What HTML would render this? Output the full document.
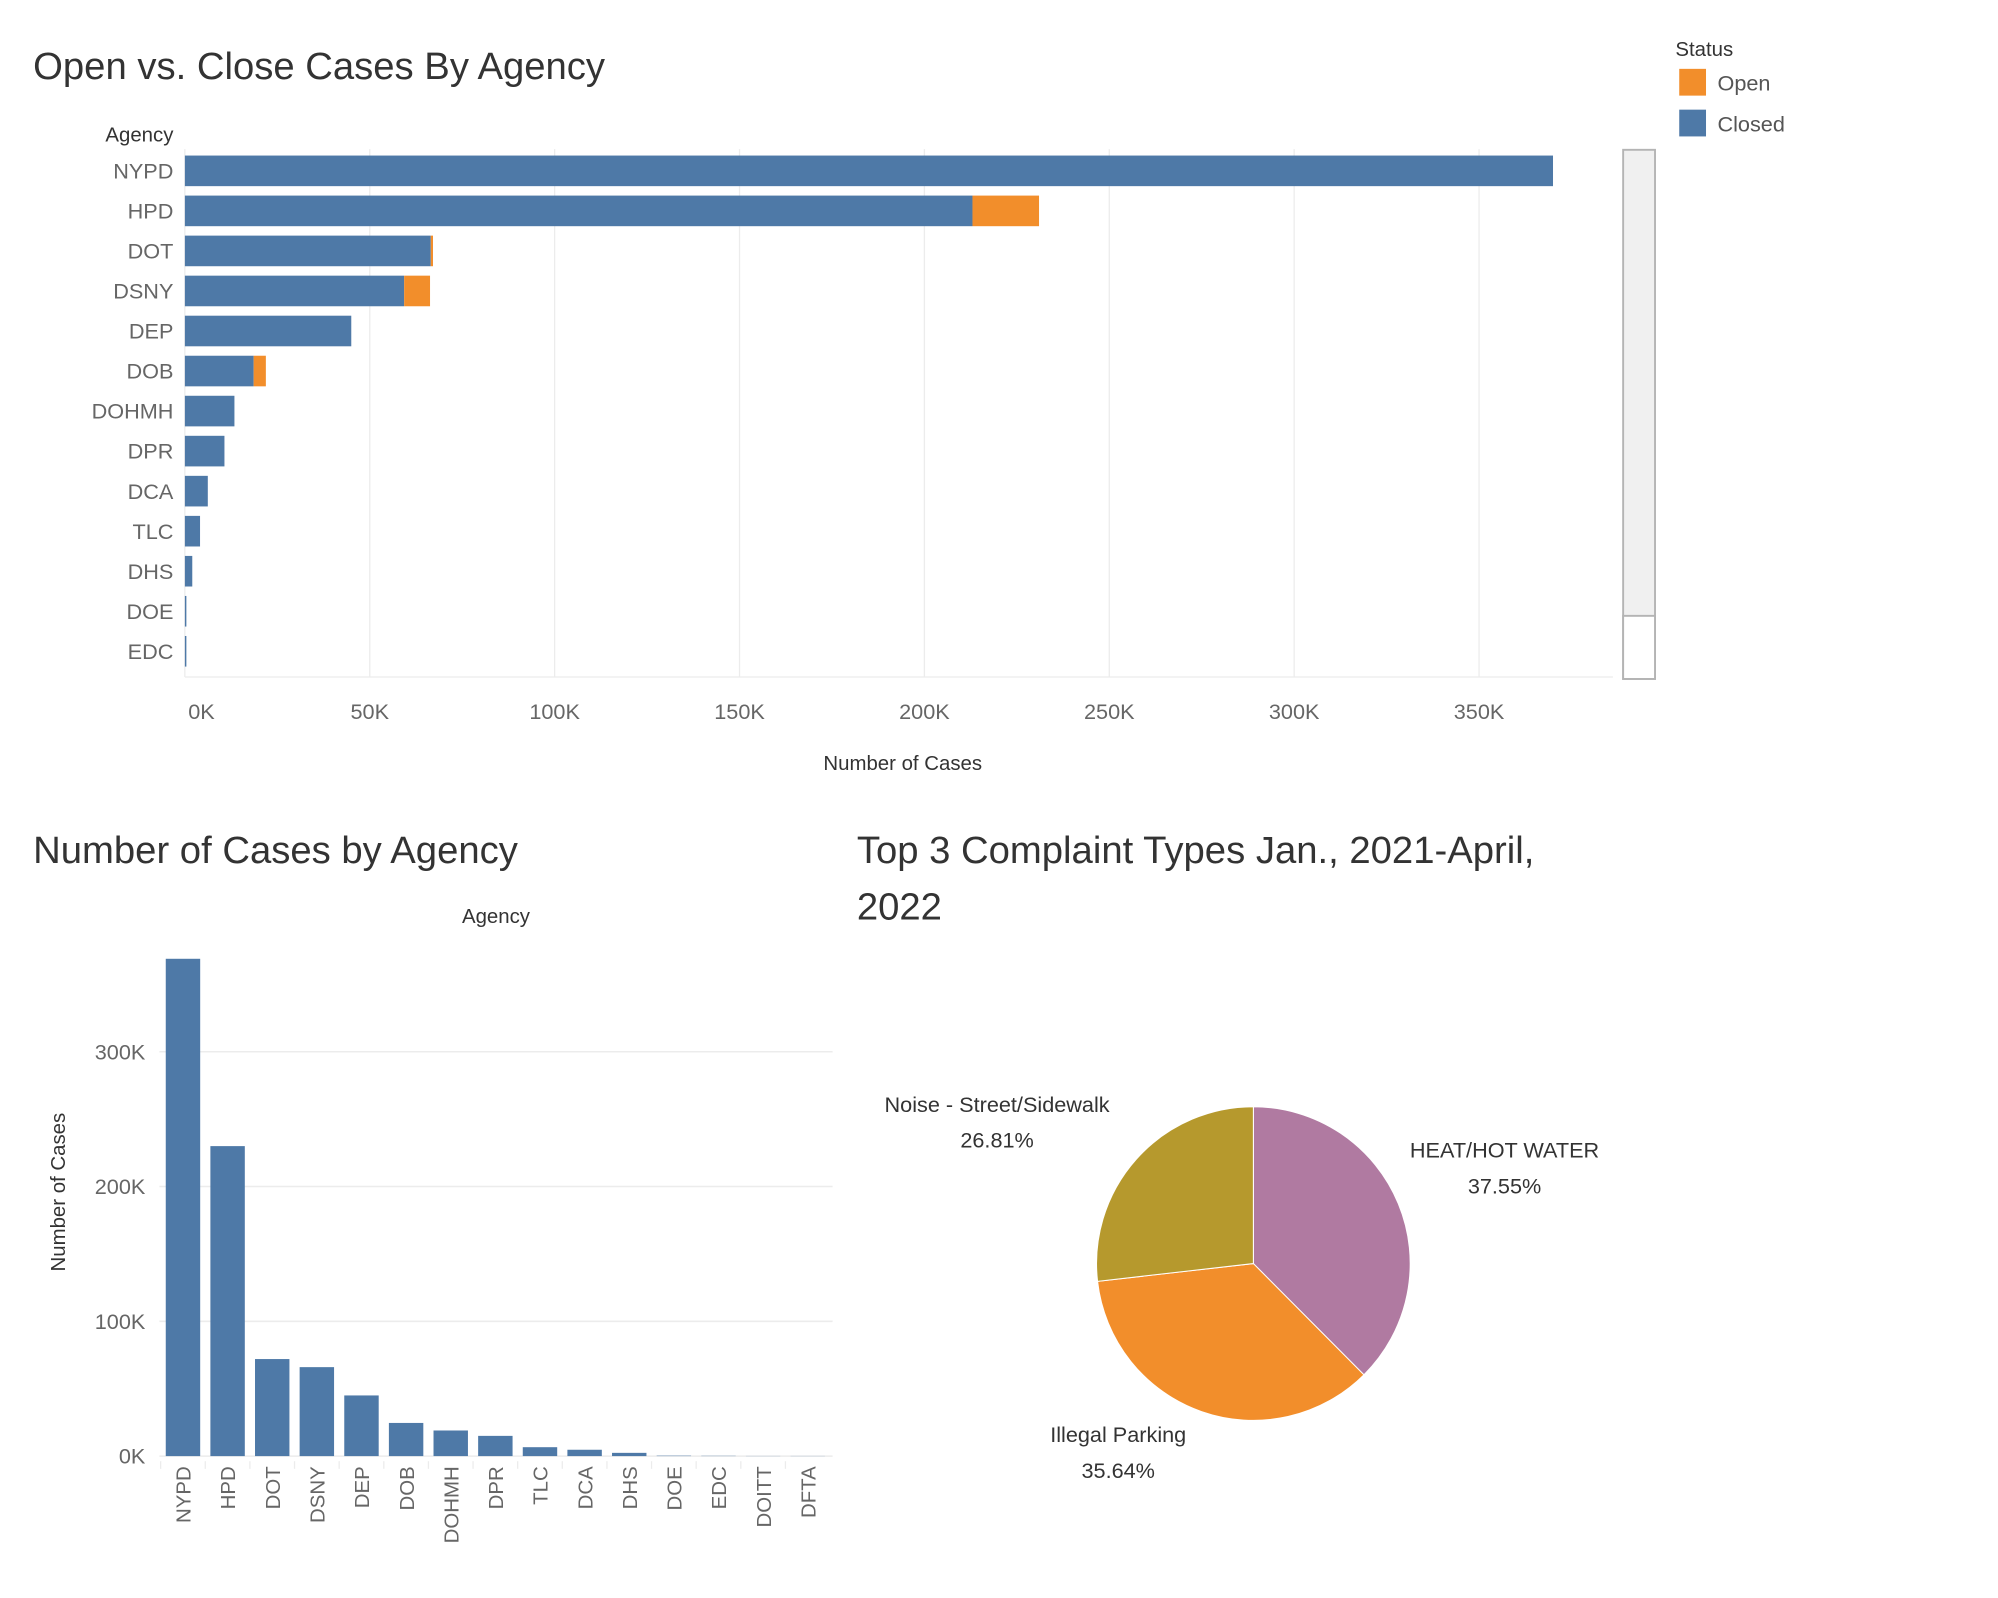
<!DOCTYPE html>
<html><head><meta charset="utf-8">
<style>
html,body{margin:0;padding:0;background:#fff;}
svg{display:block;font-family:"Liberation Sans","DejaVu Sans",sans-serif;}
</style></head>
<body>
<svg id="root" width="1998" height="1598" viewBox="0 0 1567 1253.3" preserveAspectRatio="none" xmlns="http://www.w3.org/2000/svg">
  <text x="26" y="62" font-size="30" fill="#333">Open vs. Close Cases By Agency</text>
  <text x="136" y="111" font-size="16" fill="#333" text-anchor="end">Agency</text>
  <g id="hbar"></g>
  <rect x="1273" y="117.5" width="25" height="415" fill="#f0f0f0" stroke="#b4b4b4" stroke-width="1.5"/>
  <rect x="1273" y="483" width="25" height="49.5" fill="#fff" stroke="#b4b4b4" stroke-width="1.5"/>
  <text x="708" y="604" font-size="16" fill="#333" text-anchor="middle">Number of Cases</text>
  <g>
    <text x="1314" y="44" font-size="16" fill="#333">Status</text>
    <rect x="1317" y="54" width="21" height="21" fill="#f28e2b"/>
    <text x="1347" y="71" font-size="17" fill="#555">Open</text>
    <rect x="1317" y="86" width="21" height="21" fill="#4e79a7"/>
    <text x="1347" y="103" font-size="17" fill="#555">Closed</text>
  </g>

  <text x="26" y="677" font-size="30" fill="#333">Number of Cases by Agency</text>
  <text x="389" y="724" font-size="16" fill="#333" text-anchor="middle">Agency</text>
  <text transform="translate(51,935) rotate(-90)" font-size="16" fill="#333" text-anchor="middle">Number of Cases</text>
  <g id="vbar"></g>

  <text x="672" y="677" font-size="30" fill="#333">Top 3 Complaint Types Jan., 2021-April,</text>
  <text x="672" y="721" font-size="30" fill="#333">2022</text>
  <g id="pie"></g>
</svg>
<script>
const NS="http://www.w3.org/2000/svg";
const hAgencies=["NYPD","HPD","DOT","DSNY","DEP","DOB","DOHMH","DPR","DCA","TLC","DHS","DOE","EDC"];
const hClosed=[370,213,66.5,59.3,45,18.6,13.4,10.7,6.2,4.1,2,0.4,0.4];
const hOpen=[0,18,0.6,7,0,3.3,0,0,0,0,0,0,0];
const hTicks=[0,50,100,150,200,250,300,350];
const hTickLabels=["0K","50K","100K","150K","200K","250K","300K","350K"];

const vAgencies=["NYPD","HPD","DOT","DSNY","DEP","DOB","DOHMH","DPR","TLC","DCA","DHS","DOE","EDC","DOITT","DFTA"];
const vValues=[369,230,72,66,45,24.6,19,15,6.6,4.7,2.4,0.3,0.2,0.1,0.1];
const vTicks=[0,100,200,300];
const vTickLabels=["0K","100K","200K","300K"];

const pieLabels=["HEAT/HOT WATER","Illegal Parking","Noise - Street/Sidewalk"];
const piePercents=[37.55,35.64,26.81];
const pieColors=["#b07aa1","#f28e2b","#b6992d"];

function mk(parent,tag,attrs,text){const e=document.createElementNS(NS,tag);for(const k in attrs)e.setAttribute(k,attrs[k]);if(text!==undefined)e.textContent=text;parent.appendChild(e);return e;}

(function(){
  const g=document.getElementById('hbar');
  const x0=145,pxPerK=2.9,top=117,rowH=31.4,barH=24;
  const X=v=>x0+v*pxPerK;
  hTicks.forEach((t,i)=>{
    const l=mk(g,'line',{x1:X(t),x2:X(t),y1:top,y2:531,stroke:'#ececec','stroke-width':1});
    
    
    const tx=mk(g,'text',{x:X(t)+(t===0?13:0),y:564,'font-size':17,fill:'#666','text-anchor':'middle'},hTickLabels[i]);
    
    
  });
  const bl=mk(g,'line',{x1:x0,x2:1265,y1:531,y2:531,stroke:'#ececec','stroke-width':1});
  
  
  hAgencies.forEach((a,i)=>{
    const cy=top+17+i*rowH;
    const lab=mk(g,'text',{x:136,y:cy+6,'font-size':17,fill:'#666','text-anchor':'end'},a);
    
    
    const r=mk(g,'rect',{x:X(0),y:cy-barH/2,width:Math.max(hClosed[i]*pxPerK,1),height:barH,fill:'#4e79a7'});
    
    
    if(hOpen[i]>0){
      const o=mk(g,'rect',{x:X(hClosed[i]),y:cy-barH/2,width:hOpen[i]*pxPerK,height:barH,fill:'#f28e2b'});
      
      
    }
  });
})();

(function(){
  const g=document.getElementById('vbar');
  const y0=1142,pxPerK=1.057,left=125,right=653,c0=143.5,step=35,bw=27;
  const Y=v=>y0-v*pxPerK;
  vTicks.forEach((t,i)=>{
    const l=mk(g,'line',{x1:left,x2:right,y1:Y(t),y2:Y(t),stroke:'#ececec','stroke-width':1.2});
    
    
    const tx=mk(g,'text',{x:114,y:Y(t)+6,'font-size':17,fill:'#666','text-anchor':'end'},vTickLabels[i]);
    
    
  });
  vAgencies.forEach((a,i)=>{
    const cx=c0+i*step;
    const h=Math.max(vValues[i]*pxPerK,0);
    const r=mk(g,'rect',{x:cx-bw/2,y:y0-h,width:bw,height:h,fill:'#4e79a7'});
    
    
    const tk=mk(g,'line',{x1:cx-step/2,x2:cx-step/2,y1:y0+4,y2:y0+10,stroke:'#ececec'});
    
    
    const t=mk(g,'text',{transform:`translate(${cx+6},${y0+8}) rotate(-90)`,'font-size':16,fill:'#666','text-anchor':'end'},a);
    
    
  });
})();

(function(){
  const g=document.getElementById('pie');
  const cx=983,cy=991,r=123;
  const total=piePercents.reduce((a,b)=>a+b,0);
  let ang=0;
  const pt=a=>[cx+r*Math.sin(a),cy-r*Math.cos(a)];
  piePercents.forEach((p,i)=>{
    const a0=ang,a1=ang+p/total*2*Math.PI;ang=a1;
    const [x0,y0]=pt(a0),[x1,y1]=pt(a1);
    const large=(a1-a0)>Math.PI?1:0;
    const s=mk(g,'path',{d:`M${cx},${cy} L${x0},${y0} A${r},${r} 0 ${large} 1 ${x1},${y1} Z`,fill:pieColors[i],stroke:'#fff','stroke-width':0.8});
    
    
  });
  const pos=[[1180,908],[877,1131],[782,872]];
  pieLabels.forEach((l,i)=>{
    const t=mk(g,'text',{x:pos[i][0],y:pos[i][1],'font-size':17,fill:'#333','text-anchor':'middle'},l);
    
    
    const v=mk(g,'text',{x:pos[i][0],y:pos[i][1]+28,'font-size':17,fill:'#333','text-anchor':'middle'},piePercents[i].toFixed(2)+'%');
    
    
  });
})();
</script>
</body></html>
